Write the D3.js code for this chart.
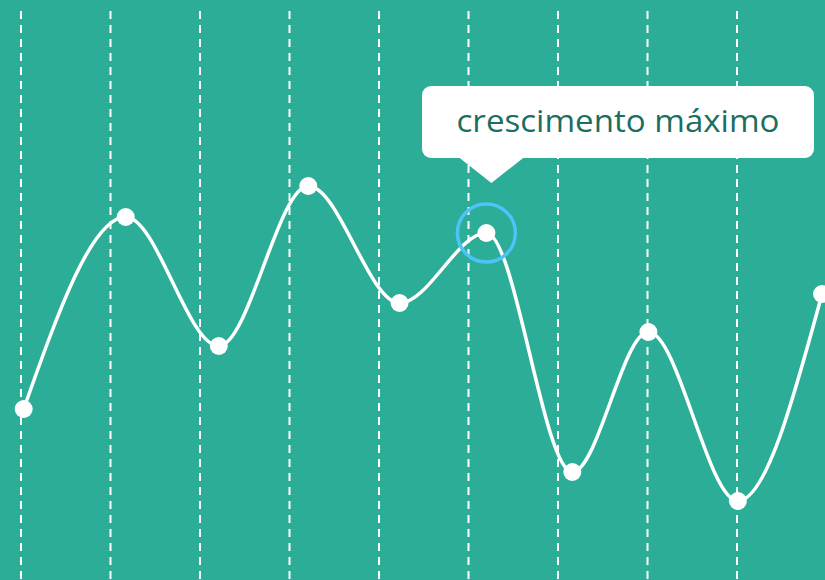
<!DOCTYPE html>
<html>
<head>
<meta charset="utf-8">
<script src="https://cdn.jsdelivr.net/npm/d3@7"></script>
<style>
  html, body { margin: 0; padding: 0; background: #2bad97; overflow: hidden; }
  svg { display: block; }
</style>
</head>
<body>
<script>
// Data (x in grid units, y in value units)
const pointX = [0.03, 1.17, 2.21, 3.21, 4.23, 5.2, 6.16, 7.01, 8.01, 8.95];
const pointY = [17.1, 36.3, 23.4, 39.4, 27.7, 34.7, 10.8, 24.8, 7.9, 28.6];
const gridTicks = [0, 1, 2, 3, 4, 5, 6, 7, 8];
const highlightIndex = 5;
const tooltipLabel = "crescimento máximo";

const W = 825, H = 580;
const svg = d3.select("body").append("svg").attr("width", W).attr("height", H);

svg.append("rect").attr("width", W).attr("height", H).attr("fill", "#2bad97");

const x = d3.scaleLinear().domain([0, 9]).range([21, 826.5]);
const y = d3.scaleLinear().domain([0, 58]).range([580, 0]);

// vertical dashed gridlines
svg.append("g").selectAll("line").data(gridTicks).join("line")
  .attr("x1", d => x(d)).attr("x2", d => x(d))
  .attr("y1", 11).attr("y2", H)
  .attr("stroke", "#ffffff").attr("stroke-width", 2)
  .attr("stroke-dasharray", "8 6");

const data = pointX.map((v, i) => ({ x: v, y: pointY[i] }));

// line
const line = d3.line().x(d => x(d.x)).y(d => y(d.y)).curve(d3.curveMonotoneX);
svg.append("path").datum(data)
  .attr("d", line)
  .attr("fill", "none")
  .attr("stroke", "#ffffff")
  .attr("stroke-width", 3.5);

// highlight ring
const hp = data[highlightIndex];
svg.append("circle")
  .attr("cx", x(hp.x)).attr("cy", y(hp.y)).attr("r", 29)
  .attr("fill", "none").attr("stroke", "#4fc3f7").attr("stroke-width", 3.5);

// points
svg.append("g").selectAll("circle").data(data).join("circle")
  .attr("cx", d => x(d.x)).attr("cy", d => y(d.y)).attr("r", 9)
  .attr("fill", "#ffffff");

// tooltip
const tx = x(hp.x), ty = y(hp.y);
const boxX = 422, boxY = 86, boxW = 392, boxH = 72;
const tip = svg.append("g");
tip.append("rect")
  .attr("x", boxX).attr("y", boxY).attr("width", boxW).attr("height", boxH)
  .attr("rx", 9).attr("ry", 9).attr("fill", "#ffffff");
tip.append("path")
  .attr("d", `M${tx - 28},${boxY + boxH - 1} L${tx + 5},${boxY + boxH + 25} L${tx + 38},${boxY + boxH - 1} Z`)
  .attr("fill", "#ffffff");
tip.append("text")
  .attr("x", boxX + boxW / 2).attr("y", 132)
  .attr("text-anchor", "middle")
  .attr("font-family", "Open Sans, sans-serif")
  .attr("font-size", 31)
  .attr("fill", "#1c6e60")
  .attr("textLength", 323)
  .attr("lengthAdjust", "spacingAndGlyphs")
  .text(tooltipLabel);
</script>
</body>
</html>
